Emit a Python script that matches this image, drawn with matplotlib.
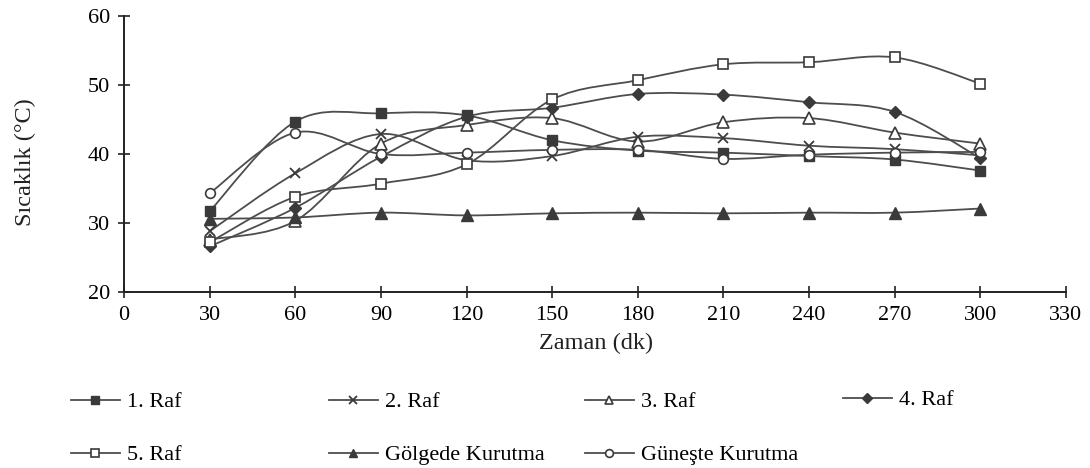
import matplotlib
matplotlib.use("Agg")
import matplotlib.pyplot as plt
import numpy as np
from matplotlib.lines import Line2D
from matplotlib.patches import PathPatch
from matplotlib.path import Path

plt.rcParams["font.family"] = ["Liberation Serif", "DejaVu Serif"]

# time (min) and temperatures (°C)
zaman = [30, 60, 90, 120, 150, 180, 210, 240, 270, 300]
raf1 = [31.7, 44.7, 45.9, 45.6, 42.0, 40.5, 40.2, 39.7, 39.2, 37.6]
raf2 = [28.8, 37.2, 42.9, 39.1, 39.7, 42.5, 42.3, 41.2, 40.7, 39.8]
raf3 = [27.6, 30.3, 41.5, 44.2, 45.2, 41.8, 44.6, 45.2, 43.1, 41.5]
raf4 = [26.6, 32.2, 39.6, 45.4, 46.7, 48.7, 48.6, 47.5, 46.1, 39.4]
raf5 = [27.2, 33.8, 35.7, 38.5, 47.9, 50.7, 53.0, 53.3, 54.0, 50.2]
golgede = [30.6, 30.8, 31.5, 31.1, 31.4, 31.5, 31.4, 31.5, 31.5, 32.1]
guneste = [34.3, 43.1, 40.0, 40.2, 40.6, 40.6, 39.3, 39.9, 40.2, 40.3]

x_ticks = list(range(0, 331, 30))
y_ticks = [20, 30, 40, 50, 60]

LINE = "#4d4d4d"
DARK = "#3a3a3a"

series = [
    ("1. Raf", raf1, dict(marker="s", ms=7.5, mfc=DARK, mec=DARK)),
    ("2. Raf", raf2, dict(marker="x", ms=7.5, mec=DARK, mew=1.3)),
    ("3. Raf", raf3, dict(marker="^", ms=8, mfc="white", mec=DARK, mew=1.2)),
    ("4. Raf", raf4, dict(marker="D", ms=6.5, mfc=DARK, mec=DARK)),
    ("5. Raf", raf5, dict(marker="s", ms=7.5, mfc="white", mec=DARK, mew=1.2)),
    ("Gölgede Kurutma", golgede, dict(marker="^", ms=8, mfc=DARK, mec=DARK)),
    ("Güneşte Kurutma", guneste, dict(marker="o", ms=7, mfc="white", mec=DARK, mew=1.2)),
]


def smooth_path(xs, ys):
    # Catmull-Rom style bezier through the points (like Excel "smoothed line")
    pts = np.column_stack([xs, ys]).astype(float)
    n = len(pts)
    verts = [pts[0]]
    codes = [Path.MOVETO]
    for i in range(n - 1):
        p0 = pts[max(i - 1, 0)]
        p1 = pts[i]
        p2 = pts[i + 1]
        p3 = pts[min(i + 2, n - 1)]
        verts += [p1 + (p2 - p0) / 6.0, p2 - (p3 - p1) / 6.0, p2]
        codes += [Path.CURVE4] * 3
    return Path(verts, codes)


fig = plt.figure(figsize=(10.9, 4.68), dpi=100)
ax = fig.add_axes([124 / 1090, 1 - 292 / 468, 942 / 1090, 276 / 468])

for name, vals, style in series:
    ax.add_patch(PathPatch(smooth_path(zaman, vals), facecolor="none",
                           edgecolor=LINE, lw=1.3, zorder=2))
    ax.plot(zaman, vals, linestyle="none", zorder=3, **style)

ax.set_xlim(0, 330)
ax.set_ylim(20, 60)
ax.set_xticks(x_ticks)
ax.set_yticks(y_ticks)
for side in ["top", "right"]:
    ax.spines[side].set_visible(False)
for side in ["left", "bottom"]:
    ax.spines[side].set_linewidth(1.4)
    ax.spines[side].set_color("#222222")
ax.tick_params(direction="inout", length=8.5, width=1.2, color="#222222",
               labelsize=16, pad=6)

fig.text(25 / 1090, 1 - 162 / 468, "Sıcaklık (°C)", rotation=90,
         ha="center", va="center", fontsize=17.5, color="#222222")
fig.text(596 / 1090, 1 - 343 / 468, "Zaman (dk)", ha="center",
         va="center", fontsize=17.5, color="#222222")

# legend laid out in two rows like the original
legend_pos = [(71, 402), (329, 402), (585, 402), (843, 400),
              (71, 455), (329, 455), (585, 455)]
for (name, vals, style), (px, py) in zip(series, legend_pos):
    h = Line2D([], [], color=LINE, lw=1.3, **style)
    leg = fig.legend([h], [name], loc="center left",
                     bbox_to_anchor=(px / 1090, 1 - py / 468),
                     frameon=False, fontsize=16, handlelength=2.2,
                     handletextpad=0.3, borderpad=0, borderaxespad=0,
                     markerscale=0.8)

fig.savefig("out.png", dpi=100)
